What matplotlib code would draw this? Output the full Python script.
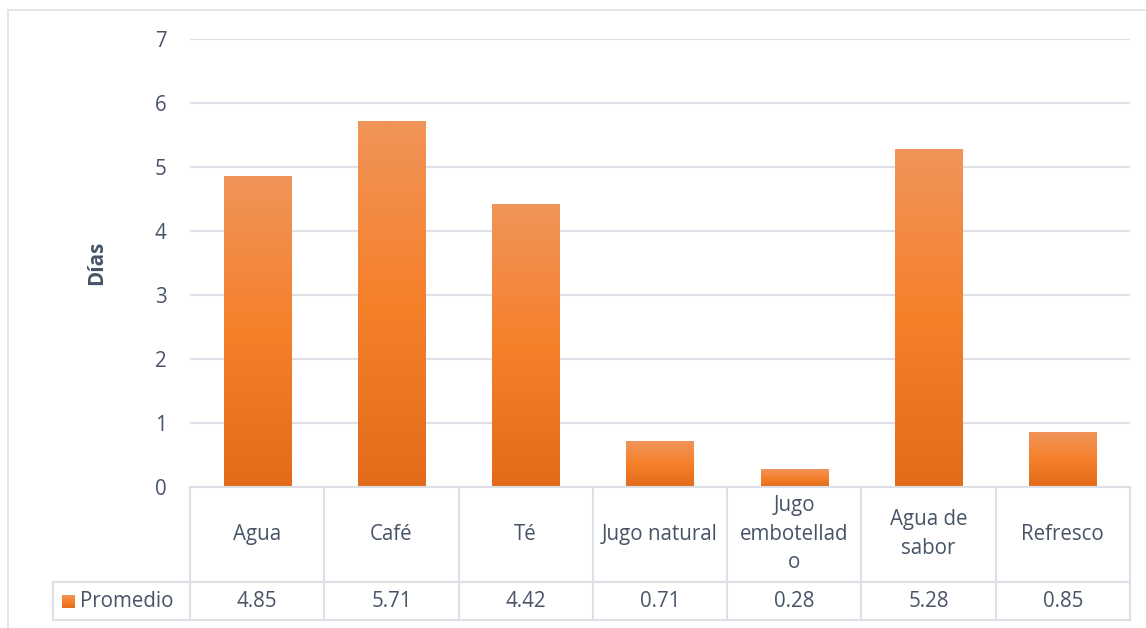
import numpy as np
import matplotlib.pyplot as plt
from matplotlib.colors import LinearSegmentedColormap
from matplotlib.patches import Rectangle

# =============================================================================
# Data
# =============================================================================
categories = ["Agua", "Café", "Té", "Jugo natural", "Jugo\nembotellad\no",
              "Agua de\nsabor", "Refresco"]
promedio = [4.85, 5.71, 4.42, 0.71, 0.28, 5.28, 0.85]
value_labels = ["4.85", "5.71", "4.42", "0.71", "0.28", "5.28", "0.85"]
series_name = "Promedio"

plt.rcParams['font.family'] = ['Open Sans', 'DejaVu Sans']
txt = '#475467'
line_c = '#DDE1E7'
fs = 14.8

W, H = 1146, 628
fig = plt.figure(figsize=(W/100, H/100), dpi=100)

# chart border
fig.patches.append(Rectangle((8/W, -0.1), 1.2, 1 - 10/H + 0.1, transform=fig.transFigure,
                             fill=False, edgecolor=line_c, linewidth=1.2))

# =============================================================================
# Plot area
# =============================================================================
ax = fig.add_axes([190/W, (H-487)/H, 940/W, (487-39)/H])
cmap = LinearSegmentedColormap.from_list('og', ['#E36B1A', '#F5802A', '#F19459'])
grad = np.linspace(0, 1, 256).reshape(-1, 1)
x = np.arange(len(categories))
for xi, v in zip(x, promedio):
    ax.imshow(grad, extent=[xi-0.25, xi+0.25, 0, v], origin='lower', cmap=cmap,
              aspect='auto', zorder=3)
ax.set_xlim(-0.5, len(categories)-0.5)
ax.set_ylim(0, 7)
ax.set_yticks(range(8))
ax.set_xticks([])
ax.yaxis.grid(True, color=line_c, linewidth=1.5)
ax.set_axisbelow(True)
for s in ax.spines.values():
    s.set_visible(False)
ax.tick_params(axis='y', length=0, pad=17, labelsize=fs, labelcolor=txt)
ax.set_ylabel("Días", fontsize=fs, fontweight='bold', color=txt, labelpad=34)

# =============================================================================
# Data table
# =============================================================================
unit = 940/7
lw = (190-53)/unit
tx = fig.add_axes([53/W, (H-620)/H, (1130-53)/W, (620-487)/H])
tx.set_xlim(-0.5-lw, len(categories)-0.5)
tx.set_ylim(620, 487)
tx.axis('off')
n = len(categories)
tx.plot([-0.5, n-0.5], [487, 487], color=line_c, lw=1.5, clip_on=False)
tx.plot([-0.5-lw, n-0.5], [582, 582], color=line_c, lw=1.5, clip_on=False)
tx.plot([-0.5-lw, n-0.5], [620, 620], color=line_c, lw=1.5, clip_on=False)
tx.plot([-0.5-lw, -0.5-lw], [582, 620], color=line_c, lw=1.5, clip_on=False)
for b in np.arange(n+1) - 0.5:
    tx.plot([b, b], [487, 620], color=line_c, lw=1.5, clip_on=False)
for xi, c, v in zip(x, categories, value_labels):
    tx.text(xi, 534, c, ha='center', va='center', fontsize=fs, color=txt,
            linespacing=1.45)
    tx.text(xi, 601, v, ha='center', va='center', fontsize=fs, color=txt)
# legend key
kx0 = -0.5 - lw + 9/unit
tx.imshow(grad, extent=[kx0, kx0 + 13/unit, 608, 595], origin='lower', cmap=cmap,
          aspect='auto', zorder=3)
tx.set_xlim(-0.5-lw, len(categories)-0.5)
tx.set_ylim(620, 487)
tx.text(kx0 + 18/unit, 601, series_name, ha='left', va='center', fontsize=fs, color=txt)

fig.savefig("out.png", dpi=100)
